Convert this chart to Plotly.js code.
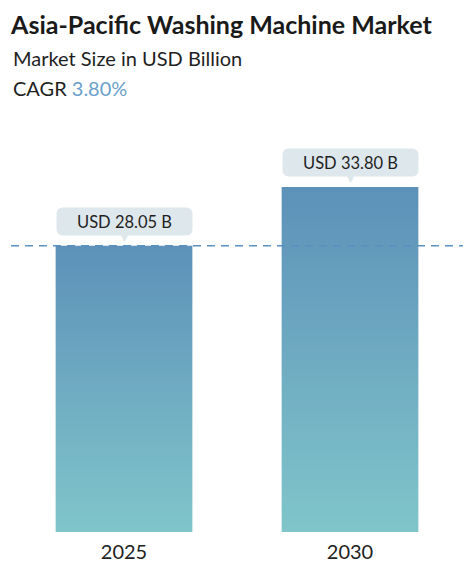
<!DOCTYPE html>
<html>
<head>
<meta charset="utf-8">
<script src="https://cdn.plot.ly/plotly-3.0.1.min.js"></script>
<style>
  html, body { margin: 0; padding: 0; background: #fff; }
  #chart { width: 463px; height: 580px; }
</style>
</head>
<body>
<div id="chart"></div>
<script>
// values
var years = ['2025', '2030'];
var marketSize = [28.05, 33.80];
var valueLabels = ['USD 28.05 B', 'USD 33.80 B'];
var cagr = '3.80%';

var FONT = 'Lato, "Open Sans", sans-serif';
var BOX = '#dde7ec';

var trace = {
  type: 'bar',
  x: years,
  y: marketSize,
  marker: { color: '#6aa6bf', line: { width: 0 } },
  hoverinfo: 'none'
};

var annos = [];
for (var i = 0; i < years.length; i++) {
  // on a category axis a numeric-looking string is read as an index, so use the index
  annos.push({
    x: i, y: marketSize[i], xref: 'x', yref: 'y',
    text: valueLabels[i], showarrow: false,
    yanchor: 'bottom', yshift: 10,
    bgcolor: BOX, width: 127, height: 19, borderpad: 4,
    font: { family: FONT, size: 16.5, color: '#1f1f1f' }
  });
  // little pointer under the label box
  annos.push({
    x: i, y: marketSize[i], xref: 'x', yref: 'y',
    text: '▼', showarrow: false,
    yanchor: 'bottom', yshift: 1,
    font: { family: 'DejaVu Sans', size: 9, color: BOX }
  });
}

annos.push({
  xref: 'paper', yref: 'paper', x: 0, y: 1.209, xanchor: 'left', yanchor: 'middle',
  text: 'Market Size in USD Billion', showarrow: false,
  font: { family: FONT, size: 20, color: '#1f1f1f' }
});
annos.push({
  xref: 'paper', yref: 'paper', x: 0, y: 1.133, xanchor: 'left', yanchor: 'middle',
  text: 'CAGR <span style="color:#6b9fcb">' + cagr + '</span>', showarrow: false,
  font: { family: FONT, size: 20, color: '#1f1f1f' }
});

var layout = {
  width: 463,
  height: 580,
  margin: { l: 11, r: 0, t: 140, b: 48 },
  paper_bgcolor: '#fff',
  plot_bgcolor: '#fff',
  showlegend: false,
  bargap: 0.395,
  title: {
    text: '<b>Asia-Pacific Washing Machine Market</b>',
    x: 0.024, xref: 'container', xanchor: 'left',
    y: 0.957, yref: 'container', yanchor: 'middle',
    font: { family: FONT, size: 25, color: '#1a1a1a' }
  },
  xaxis: {
    type: 'category',
    range: [-0.5, 1.5],
    showgrid: false, zeroline: false, showline: false,
    ticks: '', ticklabelstandoff: 6,
    tickfont: { family: FONT, size: 20, color: '#222' }
  },
  yaxis: {
    range: [0, 38.4],
    visible: false, showgrid: false, zeroline: false
  },
  shapes: [{
    type: 'line', xref: 'paper', yref: 'y',
    x0: 0, x1: 1, y0: marketSize[0], y1: marketSize[0],
    line: { color: '#5b8fc0', width: 1.5, dash: '8px,6px' },
    layer: 'above'
  }],
  annotations: annos
};

Plotly.newPlot('chart', [trace], layout, { displayModeBar: false, staticPlot: true }).then(function (gd) {
  // vertical gradient on the bars
  var ns = 'http://www.w3.org/2000/svg';
  var defs = gd.querySelector('.main-svg defs');
  var grad = document.createElementNS(ns, 'linearGradient');
  grad.setAttribute('id', 'barGrad');
  grad.setAttribute('x1', '0'); grad.setAttribute('y1', '0');
  grad.setAttribute('x2', '0'); grad.setAttribute('y2', '1');
  var stops = [['0', '#5d91b9'], ['1', '#80c5ca']];
  stops.forEach(function (s) {
    var st = document.createElementNS(ns, 'stop');
    st.setAttribute('offset', s[0]);
    st.setAttribute('stop-color', s[1]);
    grad.appendChild(st);
  });
  defs.appendChild(grad);
  gd.querySelectorAll('.trace.bars .point path').forEach(function (p) {
    p.style.fill = 'url(#barGrad)';
  });
  // rounded label boxes
  gd.querySelectorAll('.annotation rect.bg').forEach(function (r) {
    r.setAttribute('rx', 6);
    r.setAttribute('ry', 6);
  });
});
</script>
</body>
</html>
